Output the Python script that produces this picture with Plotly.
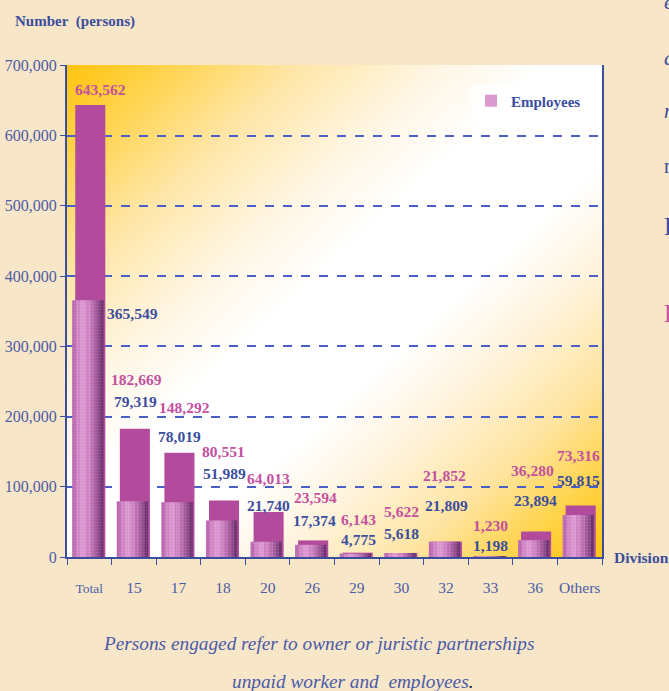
import base64
import plotly.graph_objects as go

# ---------------- data ----------------
categories = ["Total", "15", "17", "18", "20", "26", "29", "30", "32", "33", "36", "Others"]
persons_engaged = [643562, 182669, 148292, 80551, 64013, 23594, 6143, 5622, 21852, 1230, 36280, 73316]
employees = [365549, 79319, 78019, 51989, 21740, 17374, 4775, 5618, 21809, 1198, 23894, 59815]
tick_labels = ["<span style='font-size:13.5px'>Total</span>", "15", "17", "18", "20", "26",
               "29", "30", "32", "33", "36", "Others"]

# label placement (pixel shifts from the bar tops)
pink_yshift = [15, 49, 45, 49, 34, 43, 33, 42, 66, 31, 61, 50]
pink_xshift = [11, 3, 6, 0, 1, 3, 2, 0, -1, 0, -3, -1]
blue_yshift = [-13, 100, 66, 47, 36, 24, 14, 20, 36, 11, 40, 34]
blue_xshift = [43, 2, 1, 1, 1, 2, 2, 0, 1, 0, 0, -1]

# ---------------- styles ----------------
BG = "#f8e6c8"
BLUE = "#3b4e9e"
TICKBLUE = "#4b5ba6"
PINK_TXT = "#c3519f"
PINK_BAR = "#b24b9c"
SERIF = "Liberation Serif, Times New Roman, serif"

W, H = 669, 691
ML, MR, MT, MB = 67, 67, 65, 134

fig = go.Figure()
xi = list(range(len(categories)))

# persons engaged (solid magenta, behind)
fig.add_trace(go.Bar(
    x=xi, y=persons_engaged, width=0.674, offset=-0.315,
    marker=dict(color=PINK_BAR, line=dict(width=0)),
    showlegend=False, hoverinfo="skip",
))

# employees: cylinder-like shaded bar built from vertical strips
strip_fracs = [0.12, 0.13, 0.20, 0.15, 0.12, 0.10, 0.09, 0.09]
strip_cols = ["#bb67b0", "#cf84c4", "#da95ce", "#cd82c2", "#b96daf", "#a0569a", "#874486", "#6a2d6b"]
bar_w = 0.70
start = -0.384
acc = 0.0
for i, (f, c) in enumerate(zip(strip_fracs, strip_cols)):
    w = bar_w * f
    fig.add_trace(go.Bar(
        x=xi, y=employees, width=w + 0.003, offset=start + acc,
        marker=dict(color=c, line=dict(width=0),
                    pattern=dict(shape="+", size=3, solidity=0.25,
                                 fgcolor="rgba(255,255,255,0.35)")),
        name="Employees", showlegend=(i == 2), hoverinfo="skip",
    ))
    acc += w

# gradient plot background
svg = ('<svg xmlns="http://www.w3.org/2000/svg" width="535" height="492" '
       'viewBox="0 0 535 492" preserveAspectRatio="none"><defs>'
       '<linearGradient id="g" x1="0" y1="0" x2="1" y2="1">'
       '<stop offset="0" stop-color="#ffc40c"/>'
       '<stop offset="0.1" stop-color="#ffd450"/>'
       '<stop offset="0.22" stop-color="#ffe6a8"/>'
       '<stop offset="0.35" stop-color="#fff6e4"/>'
       '<stop offset="0.45" stop-color="#ffffff"/>'
       '<stop offset="0.6" stop-color="#ffffff"/>'
       '<stop offset="0.7" stop-color="#fff3dc"/>'
       '<stop offset="0.82" stop-color="#ffe4a0"/>'
       '<stop offset="0.92" stop-color="#ffd244"/>'
       '<stop offset="1" stop-color="#ffc40c"/>'
       '</linearGradient></defs><rect width="535" height="492" fill="url(#g)"/></svg>')
src = "data:image/svg+xml;base64," + base64.b64encode(svg.encode()).decode()

annotations = []
for i in xi:
    annotations.append(dict(
        x=i, y=persons_engaged[i], xref="x", yref="y",
        text=f"{persons_engaged[i]:,}", showarrow=False,
        xanchor="center", yanchor="middle",
        xshift=pink_xshift[i], yshift=pink_yshift[i],
        font=dict(family=SERIF, size=15.5, color=PINK_TXT, weight="bold"),
    ))
    annotations.append(dict(
        x=i, y=employees[i], xref="x", yref="y",
        text=f"{employees[i]:,}", showarrow=False,
        xanchor="center", yanchor="middle",
        xshift=blue_xshift[i], yshift=blue_yshift[i],
        font=dict(family=SERIF, size=15.5, color=BLUE, weight="bold"),
    ))

pw, ph = W - ML - MR, H - MT - MB


def px(xp):
    return (xp - ML) / pw


def py(yp):
    return (H - MB - yp) / ph


annotations += [
    dict(x=px(13), y=py(21), xref="paper", yref="paper", text="Number\u00a0\u00a0(persons)",
         showarrow=False, xanchor="left", yanchor="middle",
         font=dict(family=SERIF, size=15, color=BLUE, weight="bold")),
    dict(x=px(612), y=py(557), xref="paper", yref="paper", text="Division",
         showarrow=False, xanchor="left", yanchor="middle",
         font=dict(family=SERIF, size=15.5, color=BLUE, weight="bold")),
    dict(x=px(318), y=py(643), xref="paper", yref="paper",
         text="<i>Persons engaged refer to owner or juristic partnerships</i>",
         showarrow=False, xanchor="center", yanchor="middle",
         font=dict(family=SERIF, size=19.3, color="#4a5aa8")),
    dict(x=px(353), y=py(681), xref="paper", yref="paper",
         text="<i>unpaid worker and\u00a0\u00a0employees<span style='color:#222244'>.</span></i>",
         showarrow=False, xanchor="center", yanchor="middle",
         font=dict(family=SERIF, size=19.3, color="#4a5aa8")),
]

# partially visible neighbouring text at the right edge
edge_frags = [("<i>e</i>", 2, BLUE, 21), ("<i>a</i>", 58, BLUE, 21), ("<i>n</i>", 111, BLUE, 21),
              ("n", 166, BLUE, 20), ("E", 226, BLUE, 25), ("E", 313, PINK_TXT, 25)]
for t, yp, col, sz in edge_frags:
    annotations.append(dict(x=px(662), y=py(yp), xref="paper", yref="paper", text=t,
                            showarrow=False, xanchor="left", yanchor="middle",
                            font=dict(family=SERIF, size=sz, color=col)))

fig.update_layout(
    width=W, height=H,
    margin=dict(l=ML, r=MR, t=MT, b=MB, pad=0),
    paper_bgcolor=BG, plot_bgcolor="rgba(0,0,0,0)",
    barmode="overlay",
    images=[dict(source=src, xref="paper", yref="paper", x=0, y=1, sizex=1, sizey=1,
                 xanchor="left", yanchor="top", sizing="stretch", layer="below")],
    annotations=annotations,
    legend=dict(x=px(586), y=py(101), xanchor="right", yanchor="middle",
                bgcolor="rgba(255,255,255,0.85)", borderwidth=0,
                font=dict(family=SERIF, size=15, color=BLUE, weight="bold"),
                itemwidth=30),
    xaxis=dict(
        tickmode="array", tickvals=xi, ticktext=tick_labels,
        range=[-0.5, len(categories) - 0.5], automargin=False,
        ticks="", showline=True, linecolor=BLUE, linewidth=2, showgrid=False,
        tickangle=0, ticklabelstandoff=15,
        tickfont=dict(family=SERIF, size=15.5, color=TICKBLUE),
        minor=dict(tickmode="array", tickvals=[i - 0.5 for i in range(len(categories) + 1)],
                   ticks="outside", ticklen=6, tickwidth=1.2, tickcolor=BLUE, showgrid=False),
        zeroline=False,
    ),
    yaxis=dict(
        range=[0, 700400], dtick=100000, tickformat=",d", automargin=False,
        ticks="outside", ticklen=5, tickwidth=1.2, tickcolor=BLUE,
        showline=True, linecolor=BLUE, linewidth=2, mirror=True,
        showgrid=True, gridcolor="#4a60c8", gridwidth=1.5, griddash="dash",
        zeroline=False,
        tickfont=dict(family=SERIF, size=16, color=TICKBLUE),
    ),
)

fig.write_html("out.html", config={"displayModeBar": False},
               post_script="document.body.style.margin='0';")
